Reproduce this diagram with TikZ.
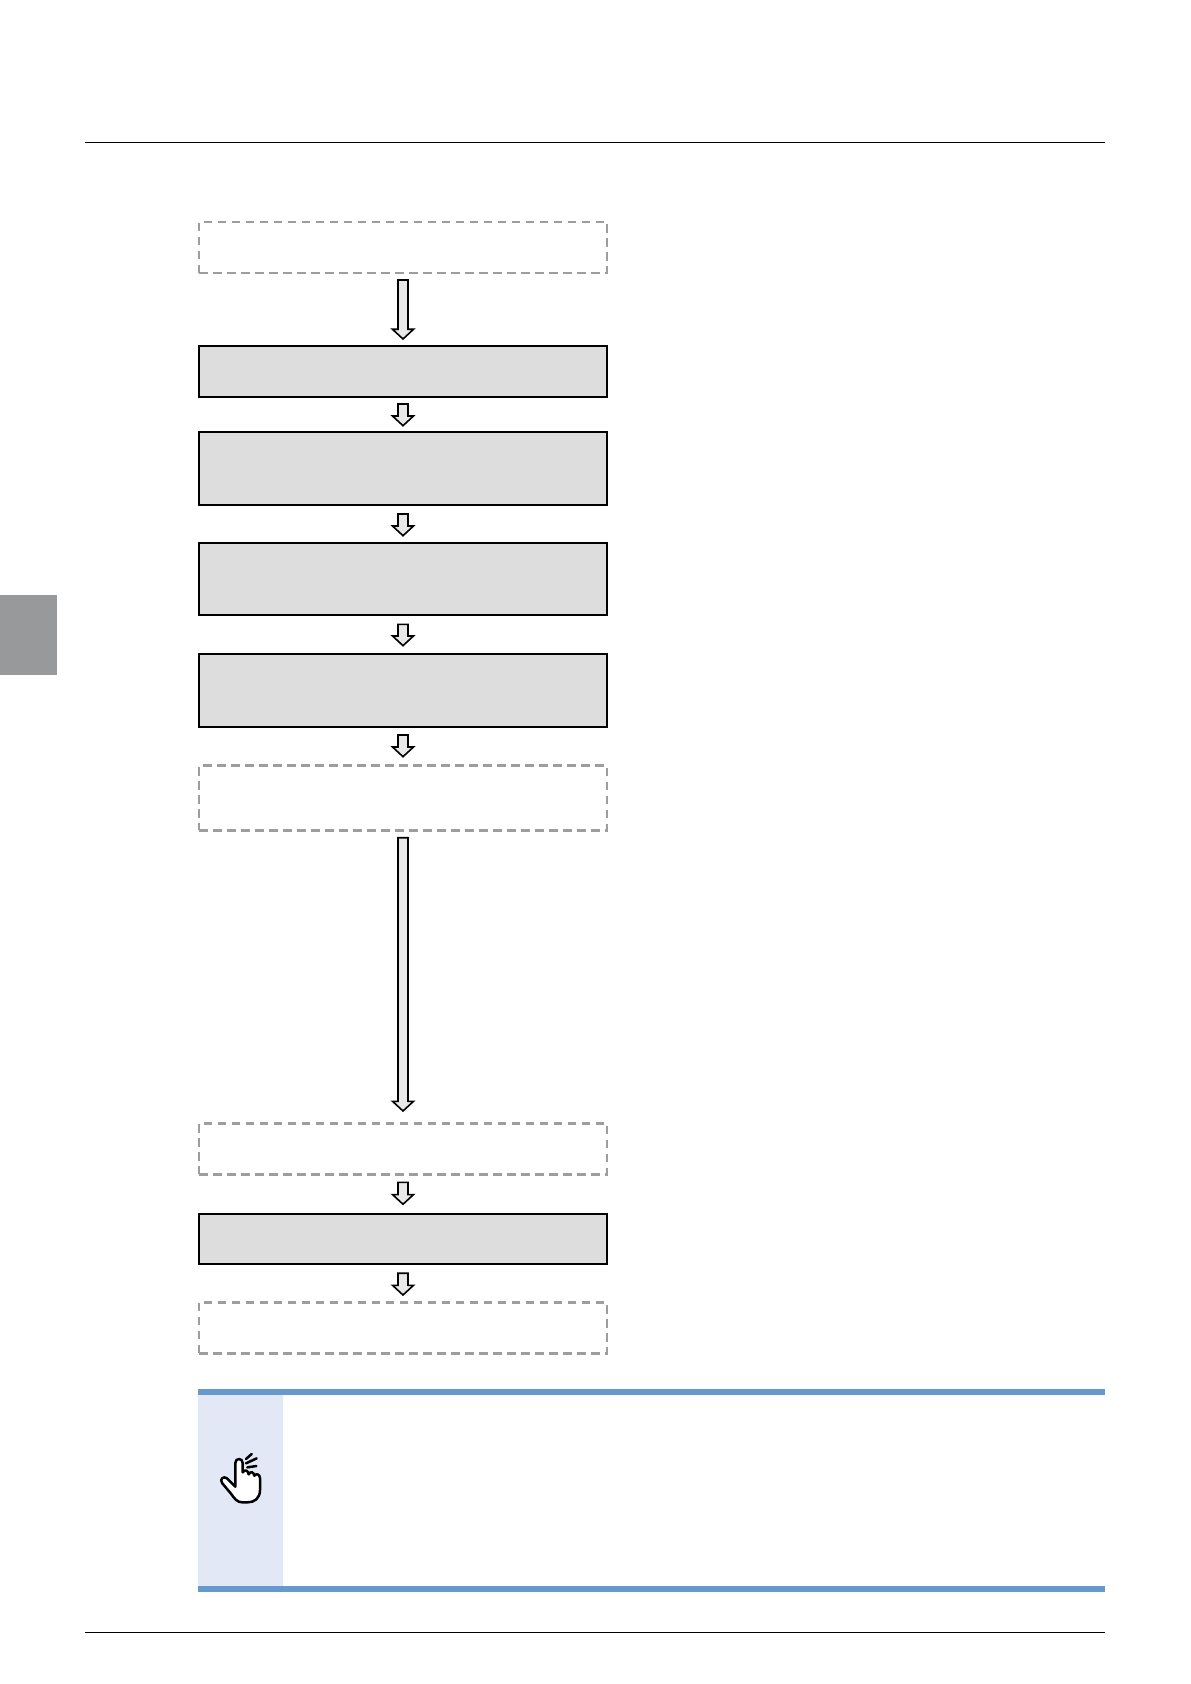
\documentclass[tikz,border=0pt]{standalone}
\usetikzlibrary{calc}
\definecolor{boxfill}{HTML}{DDDDDD}
\definecolor{dashgray}{HTML}{9D9D9D}
\definecolor{arrowfill}{HTML}{E8E8E8}
\definecolor{tabgray}{HTML}{98999B}
\definecolor{barblue}{HTML}{6699CC}
\definecolor{panelblue}{HTML}{E3E8F6}
\tikzset{
  flowbox/.style={rectangle,inner sep=0pt,outer sep=0pt,minimum width=204pt},
  boxh/.style={minimum height=#1*.5pt},
  solidbox/.style={flowbox,draw=black,fill=boxfill,line width=.85pt},
  heavybox/.style={solidbox,line width=1.15pt},
  dashbox/.style={flowbox,draw=dashgray,line width=1.3pt,dash pattern=on 4.25pt off 2.75pt},
  barrow/.style 2 args={draw=black,fill=arrowfill,line width=.8pt,line join=miter,
    to path={let \p1=(\tikztostart),\p2=(\tikztotarget) in
      ({\x1-2.5pt},{\y1-#1*.5pt}) -- ({\x1+2.5pt},{\y1-#1*.5pt})
      -- ({\x1+2.5pt},{\y2+(#2+9.7)*.5pt}) -- ({\x1+5.25pt},{\y2+(#2+9.7)*.5pt})
      -- ({\x1},{\y2+#2*.5pt}) -- ({\x1-5.25pt},{\y2+(#2+9.7)*.5pt})
      -- ({\x1-2.5pt},{\y2+(#2+9.7)*.5pt}) -- cycle}},
  rulebar/.style={draw=black,line width=.6pt},
  handline/.style={draw=black,line width=1.25pt,line cap=round,line join=round}
}
\begin{document}
\begin{tikzpicture}[x=.5pt,y=-.5pt]
\useasboundingbox (0,0) rectangle (1190,1684);
\fill[white] (0,0) rectangle (1190,1684);
% page furniture
\draw[rulebar] (85,142.3) -- (1105,142.3);
\draw[rulebar] (85,1632.3) -- (1105,1632.3);
\fill[tabgray] (0,595) rectangle (57,675);
% flow boxes
\node[dashbox,boxh=51]    (d1) at (403,247.5) {};
\node[solidbox,boxh=51]   (s1) at (403,371.2) {};
\node[solidbox,boxh=73]   (s2) at (403,468.8) {};
\node[solidbox,boxh=72.6] (s3) at (403,579) {};
\node[heavybox,boxh=73.3] (s4) at (403,690.6) {};
\node[dashbox,boxh=64.6]  (d5) at (403,798) {};
\node[dashbox,boxh=51]    (d6) at (403,1148.8) {};
\node[solidbox,boxh=50.3] (s5) at (403,1238.8) {};
\node[dashbox,boxh=51.4]  (d7) at (403,1328) {};
% block arrows
\draw[barrow={7}{6.7}]    (d1.south) to (s1.north);
\draw[barrow={7.3}{6.6}]  (s1.south) to (s2.north);
\draw[barrow={8.7}{7}]    (s2.south) to (s3.north);
\draw[barrow={9}{8.3}]    (s3.south) to (s4.north);
\draw[barrow={7.7}{9}]    (s4.south) to (d5.north);
\draw[barrow={7.4}{12.3}] (d5.south) to (d6.north);
\draw[barrow={8}{9.4}]    (d6.south) to (s5.north);
\draw[barrow={9.3}{7.3}]  (s5.south) to (d7.north);
% note panel
\fill[panelblue] (198,1395) rectangle (283,1586);
\fill[barblue] (198,1389) rectangle (1105,1395);
\fill[barblue] (198,1586) rectangle (1105,1592);
% hand icon
\begin{scope}[shift={(215,1445)},x=.16667pt,y=-.16667pt]
\draw[handline,fill=white] (61,125) -- (61,54) .. controls (61,38) and (83,38) .. (83,54)
  -- (83,82) .. controls (90,72) and (99,76) .. (101,88)
  .. controls (106,78) and (116,80) .. (118,92)
  .. controls (124,84) and (135,88) .. (135,100)
  -- (135,135) .. controls (135,160) and (118,172) .. (98,172)
  -- (82,172) .. controls (66,172) and (58,160) .. (48,146)
  -- (22,115) .. controls (12,102) and (26,92) .. (36,100) -- cycle;
\draw[handline] (93,42) -- (110,27);
\draw[handline] (93,55) -- (125,40);
\draw[handline] (97,67) -- (124,63);
\end{scope}
\end{tikzpicture}
\end{document}
